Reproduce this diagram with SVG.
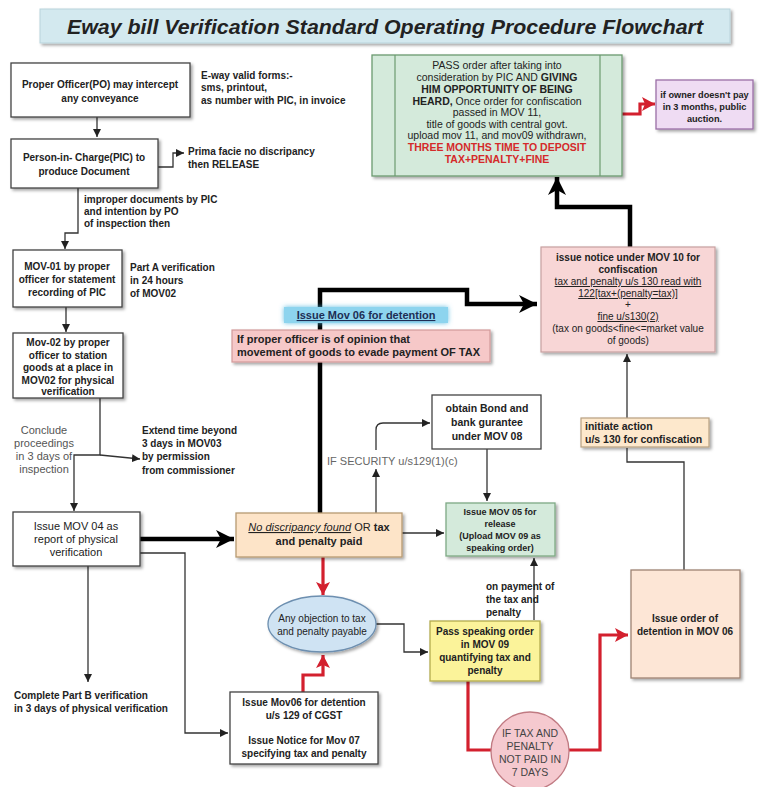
<svg xmlns="http://www.w3.org/2000/svg" width="769" height="787" viewBox="0 0 769 787">
<defs>
<style>
text{font-family:"Liberation Sans",Arial,sans-serif;fill:#222}
.b{font-weight:bold}
.c{text-anchor:middle}
.f10{font-size:10px}
.f11{font-size:11px}
.box{fill:#fff;stroke:#444;stroke-width:1.3}
.ln{fill:none;stroke:#333;stroke-width:1.3}
.thk{fill:none;stroke:#000;stroke-width:4.5}
.red{fill:none;stroke:#d3202e;stroke-width:3.2}
.gray{fill:#555}
</style>
<filter id="sh" x="-10%" y="-10%" width="130%" height="140%">
<feDropShadow dx="2" dy="2" stdDeviation="1.5" flood-color="#000" flood-opacity="0.35"/>
</filter>
<filter id="glow" x="-20%" y="-60%" width="140%" height="220%">
<feDropShadow dx="0" dy="0" stdDeviation="2.5" flood-color="#4fb7e0" flood-opacity="0.9"/>
</filter>
<marker id="ab" markerUnits="userSpaceOnUse" markerWidth="10" markerHeight="10" refX="8" refY="5" orient="auto"><path d="M0,1 L8,5 L0,9 Z" fill="#222"/></marker>
<marker id="abig" markerUnits="userSpaceOnUse" markerWidth="22" markerHeight="22" refX="18" refY="11" orient="auto"><path d="M0,2 L18,11 L0,20 L5,11 Z" fill="#000"/></marker>
<marker id="ar" markerUnits="userSpaceOnUse" markerWidth="16" markerHeight="16" refX="13" refY="8" orient="auto"><path d="M0,1 L13,8 L0,15 L3,8 Z" fill="#d3202e"/></marker>
</defs>
<rect width="769" height="787" fill="#fff"/>

<g id="title">
<rect x="40" y="9" width="690" height="34" fill="#d3e9ef" stroke="#b9d3db" filter="url(#sh)"/>
<text x="385" y="34" class="b c" style="font-size:21px;font-style:italic" textLength="636" lengthAdjust="spacingAndGlyphs">Eway bill Verification Standard Operating Procedure Flowchart</text>
</g>

<g id="connectors">
<path class="ln" d="M97,117 V137" marker-end="url(#ab)"/>
<path class="ln" d="M158,167 H173 V153 H184" marker-end="url(#ab)"/>
<path class="ln" d="M78,188 V233 H65 V249" marker-end="url(#ab)"/>
<path class="ln" d="M66,307 V332" marker-end="url(#ab)"/>
<path class="ln" d="M100,398 V455 H74 V511" marker-end="url(#ab)"/>
<path class="ln" d="M100,455 L140,459" marker-end="url(#ab)"/>
<path class="thk" d="M140,539 H234" marker-end="url(#abig)"/>
<path class="ln" d="M140,553 H185 V733 H228" marker-end="url(#ab)"/>
<path class="ln" d="M88,566 V682" marker-end="url(#ab)"/>
<path class="red" d="M303,692 V675 H323 V655" marker-end="url(#ar)"/>
<path class="red" d="M323,557 V595" marker-end="url(#ar)"/>
<path class="ln" d="M376,624 H404 V652 H428" marker-end="url(#ab)"/>
<path class="ln" d="M402,533 H444" marker-end="url(#ab)"/>
<path class="ln" d="M376,513 V469" marker-end="url(#ab)"/>
<path class="ln" d="M376,450 V430 Q376,423 383,423 H430" marker-end="url(#ab)"/>
<path class="ln" d="M487,449 V501" marker-end="url(#ab)"/>
<path class="ln" d="M534,620 V558" marker-end="url(#ab)"/>
<path class="red" d="M468,681 V750 H492" stroke-width="4"/>
<path class="red" d="M569,750 H600 V635 H628" stroke-width="4" marker-end="url(#ar)"/>
<path class="ln" d="M684,570 V462 H627 V448"/>
<path class="ln" d="M627,418 V354" marker-end="url(#ab)"/>
<path class="thk" d="M320,513 V290 H467 V304 H537" marker-end="url(#abig)"/>
<path class="thk" d="M630,247 V207 H557 V177" marker-end="url(#abig)"/>
<path class="red" d="M622,114 H640 V104 H655" marker-end="url(#ar)"/>
</g>

<g id="n-po">
<rect class="box" x="11" y="63" width="179" height="54" filter="url(#sh)"/>
<text class="b c f10" x="100" y="88">Proper Officer(PO) may intercept</text>
<text class="b c f10" x="100" y="102">any conveyance</text>
</g>
<g id="n-eway">
<text class="b f10" x="201" y="79">E-way valid forms:-</text>
<text class="b f10" x="201" y="91">sms, printout,</text>
<text class="b f10" x="201" y="104">as number with PIC, in invoice</text>
</g>
<g id="n-pic">
<rect class="box" x="11" y="139" width="147" height="49" filter="url(#sh)"/>
<text class="b c f10" x="84" y="161">Person-in- Charge(PIC) to</text>
<text class="b c f10" x="84" y="175">produce Document</text>
</g>
<g id="n-release">
<text class="b f10" x="188" y="155">Prima facie no discripancy</text>
<text class="b f10" x="188" y="168">then RELEASE</text>
</g>
<g id="n-improper">
<text class="b f10" x="84" y="203">improper documents by PIC</text>
<text class="b f10" x="84" y="215">and intention by PO</text>
<text class="b f10" x="84" y="227">of inspection then</text>
</g>
<g id="n-mov01">
<rect class="box" x="13" y="250" width="109" height="57" filter="url(#sh)"/>
<text class="b c f10" x="67" y="270">MOV-01 by proper</text>
<text class="b c f10" x="67" y="283">officer for statement</text>
<text class="b c f10" x="67" y="296">recording of PIC</text>
</g>
<g id="n-parta">
<text class="b f10" x="130" y="271">Part A verification</text>
<text class="b f10" x="130" y="284">in 24 hours</text>
<text class="b f10" x="130" y="297">of MOV02</text>
</g>
<g id="n-mov02">
<rect class="box" x="13" y="333" width="110" height="65" filter="url(#sh)"/>
<text class="b c f10" x="68" y="346">Mov-02 by proper</text>
<text class="b c f10" x="68" y="358.5">officer to station</text>
<text class="b c f10" x="68" y="371">goods at a place in</text>
<text class="b c f10" x="68" y="383.5">MOV02 for physical</text>
<text class="b c f10" x="68" y="395">verification</text>
</g>
<g id="n-conclude">
<text class="c f11 gray" x="44" y="434">Conclude</text>
<text class="c f11 gray" x="44" y="447">proceedings</text>
<text class="c f11 gray" x="44" y="460">in 3 days of</text>
<text class="c f11 gray" x="44" y="473">inspection</text>
</g>
<g id="n-extend">
<text class="b f10" x="142" y="434">Extend time beyond</text>
<text class="b f10" x="142" y="447">3 days in MOV03</text>
<text class="b f10" x="142" y="460">by permission</text>
<text class="b f10" x="142" y="474">from commissioner</text>
</g>
<g id="n-mov04">
<rect class="box" x="13" y="512" width="127" height="54" filter="url(#sh)"/>
<text class="c f11" x="76" y="530" fill="#333">Issue MOV 04 as</text>
<text class="c f11" x="76" y="543" fill="#333">report of physical</text>
<text class="c f11" x="76" y="556" fill="#333">verification</text>
</g>
<g id="n-partb">
<text class="b f10" x="14" y="699">Complete Part B verification</text>
<text class="b f10" x="14" y="712">in 3 days of physical verification</text>
</g>
<g id="n-mov06a">
<rect class="box" x="230" y="692" width="148" height="72" filter="url(#sh)"/>
<text class="b c f10" x="304" y="706">Issue Mov06 for detention</text>
<text class="b c f10" x="304" y="719">u/s 129 of CGST</text>
<text class="b c f10" x="304" y="744">Issue Notice for Mov 07</text>
<text class="b c f10" x="304" y="757">specifying tax and penalty</text>
</g>
<g id="n-objection">
<ellipse cx="322" cy="624" rx="54" ry="28" fill="#cfe3f3" stroke="#6d8fb0" stroke-width="1.3" filter="url(#sh)"/>
<text class="c f10" x="322" y="622" fill="#333">Any objection to tax</text>
<text class="c f10" x="322" y="635" fill="#333">and penalty payable</text>
</g>
<g id="n-nodisc">
<rect x="236" y="513" width="166" height="44" fill="#fde4c8" stroke="#b79a72" stroke-width="1.3" filter="url(#sh)"/>
<text class="c f11" x="319" y="531"><tspan font-style="italic" text-decoration="underline">No discripancy found</tspan> OR <tspan font-weight="bold">tax</tspan></text>
<text class="b c f11" x="319" y="545">and penalty paid</text>
</g>
<g id="n-label-mov06">
<rect x="284" y="307" width="164" height="16" fill="#8dd4ee" filter="url(#glow)"/>
<text class="b c f11" x="366" y="319" text-decoration="underline" style="fill:#1d2e55">Issue Mov 06 for detention</text>
</g>
<g id="n-opinion">
<rect x="232" y="330" width="258" height="32" fill="#f6c8c8" stroke="#d39a9a" stroke-width="1.2" filter="url(#sh)"/>
<text class="b" x="237" y="343" style="font-size:11px">If proper officer is of opinion that</text>
<text class="b" x="237" y="356" style="font-size:11px">movement of goods to evade payment OF TAX</text>
</g>
<g id="n-security">
<text x="327" y="465" class="f11" style="fill:#666">IF SECURITY u/s129(1)(c)</text>
</g>
<g id="n-bond">
<rect class="box" x="432" y="395" width="109" height="54"/>
<text class="b c" x="487" y="412" style="font-size:10.5px">obtain Bond and</text>
<text class="b c" x="487" y="426" style="font-size:10.5px">bank gurantee</text>
<text class="b c" x="487" y="440" style="font-size:10.5px">under MOV 08</text>
</g>
<g id="n-mov05">
<rect x="446" y="503" width="109" height="53" fill="#d4eadb" stroke="#7ea985" stroke-width="1.3" filter="url(#sh)"/>
<text class="b c" x="500" y="515" style="font-size:9px">Issue MOV 05 for</text>
<text class="b c" x="500" y="527" style="font-size:9px">release</text>
<text class="b c" x="500" y="539" style="font-size:9px">(Upload MOV 09 as</text>
<text class="b c" x="500" y="551" style="font-size:9px">speaking order)</text>
</g>
<g id="n-payment">
<text class="b f10" x="486" y="590">on payment of</text>
<text class="b f10" x="486" y="603">the tax and</text>
<text class="b f10" x="486" y="616">penalty</text>
</g>
<g id="n-mov09">
<rect x="430" y="621" width="110" height="60" fill="#fbf39a" stroke="#b3ab4e" stroke-width="1.3" filter="url(#sh)"/>
<text class="b c f10" x="485" y="635">Pass speaking order</text>
<text class="b c f10" x="485" y="648">in MOV 09</text>
<text class="b c f10" x="485" y="661">quantifying tax and</text>
<text class="b c f10" x="485" y="674">penalty</text>
</g>
<g id="n-notpaid">
<circle cx="530" cy="751" r="39" fill="#f5c9cf" stroke="#c07a82" stroke-width="1.3"/>
<text class="c" x="530" y="737" style="font-size:10.5px;fill:#444">IF TAX AND</text>
<text class="c" x="530" y="750" style="font-size:10.5px;fill:#444">PENALTY</text>
<text class="c" x="530" y="763" style="font-size:10.5px;fill:#444">NOT PAID IN</text>
<text class="c" x="530" y="776" style="font-size:10.5px;fill:#444">7 DAYS</text>
</g>
<g id="n-order">
<rect x="631" y="570" width="109" height="108" fill="#fde6d6" stroke="#9e8372" stroke-width="1.3" filter="url(#sh)"/>
<text class="b c f10" x="685" y="622">Issue order of</text>
<text class="b c f10" x="685" y="635">detention in MOV 06</text>
</g>
<g id="n-initiate">
<rect x="581" y="418" width="128" height="29" fill="#fde8cc" stroke="#b8a080" stroke-width="1.2" filter="url(#sh)"/>
<text class="b" x="585" y="430" style="font-size:10.5px">initiate action</text>
<text class="b" x="585" y="443" style="font-size:10.5px">u/s 130 for confiscation</text>
</g>
<g id="n-mov10">
<rect x="541" y="247" width="174" height="105" fill="#f8d6d6" stroke="#c7a0a0" stroke-width="1.2" filter="url(#sh)"/>
<text class="b c" x="628" y="261" style="font-size:10px">issue notice under MOV 10 for</text>
<text class="b c" x="628" y="273" style="font-size:10px">confiscation</text>
<text class="c" x="628" y="285" style="font-size:10px" text-decoration="underline">tax and penalty u/s 130 read with</text>
<text class="c" x="628" y="297" style="font-size:10px" text-decoration="underline">122[tax+(penalty=tax)]</text>
<text class="c" x="628" y="308" style="font-size:10px">+</text>
<text class="c" x="628" y="320" style="font-size:10px" text-decoration="underline">fine u/s130(2)</text>
<text class="c" x="628" y="332" style="font-size:10px">(tax on goods&lt;fine&lt;=market value</text>
<text class="c" x="628" y="344" style="font-size:10px">of goods)</text>
</g>
<g id="n-pass">
<rect x="372" y="55" width="250" height="121" fill="#d4eadb" stroke="#6c9a70" stroke-width="1.3" filter="url(#sh)"/>
<line x1="395" y1="55" x2="395" y2="176" stroke="#6c9a70" stroke-width="1.2"/>
<line x1="600" y1="55" x2="600" y2="176" stroke="#6c9a70" stroke-width="1.2"/>
<text class="c" x="497" y="69" style="font-size:10.5px">PASS order after taking into</text>
<text class="c" x="497" y="81" style="font-size:10.5px">consideration by PIC AND <tspan font-weight="bold">GIVING</tspan></text>
<text class="b c" x="497" y="93" style="font-size:10.5px">HIM OPPORTUNITY OF BEING</text>
<text class="c" x="497" y="105" style="font-size:10.5px"><tspan font-weight="bold">HEARD,</tspan> Once order for confiscation</text>
<text class="c" x="497" y="116" style="font-size:10.5px">passed in MOV 11,</text>
<text class="c" x="497" y="128" style="font-size:10.5px">title of goods with central govt.</text>
<text class="c" x="497" y="139" style="font-size:10.5px">upload mov 11, and mov09 withdrawn,</text>
<text class="b c" x="497" y="151" style="font-size:10.5px;fill:#d42a2a">THREE MONTHS TIME TO DEPOSIT</text>
<text class="b c" x="497" y="163" style="font-size:10.5px;fill:#d42a2a">TAX+PENALTY+FINE</text>
</g>
<g id="n-auction">
<rect x="656" y="80" width="97" height="49" fill="#efdcf3" stroke="#9a6fa6" stroke-width="1.3" filter="url(#sh)"/>
<text class="b c" x="704.5" y="98" style="font-size:9.2px">if owner doesn't pay</text>
<text class="b c" x="704.5" y="110" style="font-size:9.2px">in 3 months, public</text>
<text class="b c" x="704.5" y="122" style="font-size:9.2px">auction.</text>
</g>
</svg>
